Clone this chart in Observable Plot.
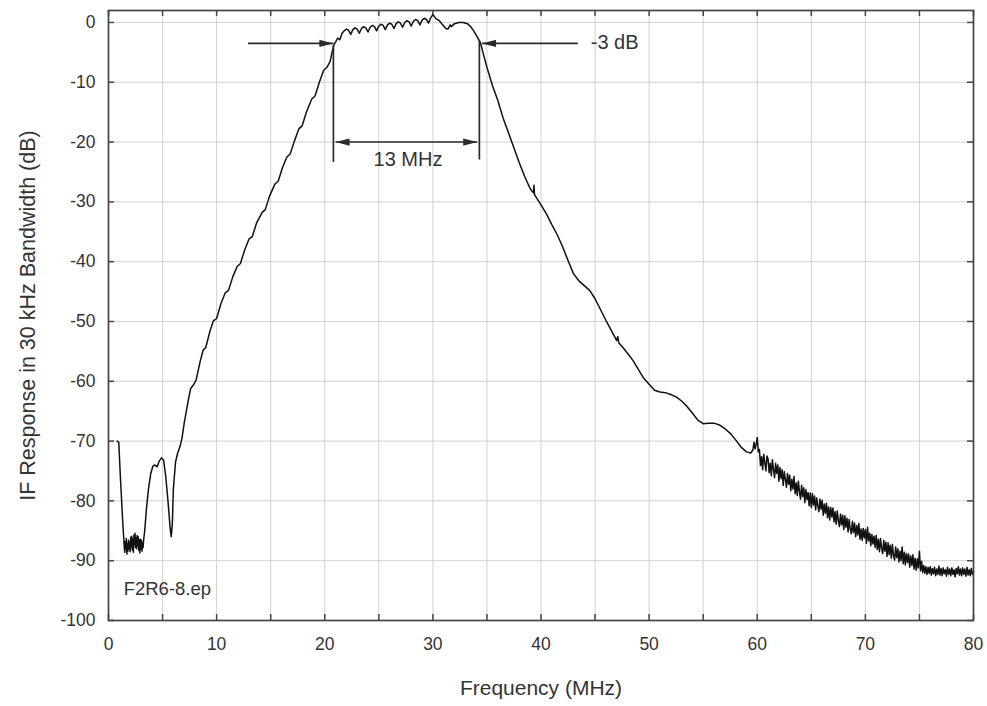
<!DOCTYPE html>
<html>
<head>
<meta charset="utf-8">
<script src="https://cdn.jsdelivr.net/npm/d3@7"></script>
<script src="https://cdn.jsdelivr.net/npm/@observablehq/plot@0.6"></script>
<style>
  html, body { margin: 0; padding: 0; background: #fff; }
  #chart svg { display: block; }
</style>
</head>
<body>
<div id="chart"></div>
<script>
// ---- Data: [frequency MHz, IF response dB] ----
const lowBand = [
  [0.8,-70.0],[0.95,-70.2],[1.1,-76.0],[1.3,-83.0],
  [1.45,-87.5],[1.5,-88.6],[1.55,-86.8],[1.6,-88.1],[1.65,-86.3],[1.7,-88.9],[1.75,-87.2],[1.8,-88.4],
  [1.85,-86.6],[1.9,-88.0],[1.95,-86.9],[2.0,-88.5],[2.05,-86.1],[2.1,-87.7],[2.15,-85.9],[2.2,-88.2],
  [2.25,-86.4],[2.3,-88.6],[2.35,-85.7],[2.4,-87.3],[2.45,-85.4],[2.5,-87.8],[2.55,-86.2],[2.6,-88.0],
  [2.65,-85.8],[2.7,-87.5],[2.75,-86.0],[2.8,-88.3],[2.85,-86.5],[2.9,-88.7],[2.95,-86.4],[3.0,-88.1],
  [3.05,-86.6],[3.1,-88.4],[3.15,-87.0],[3.2,-87.8],[3.25,-86.5],[3.35,-85.0],
  [3.5,-81.5],[3.7,-78.0],[3.9,-75.5],[4.1,-74.2],[4.3,-74.0],[4.5,-74.3],[4.7,-73.3],[4.9,-72.8],
  [5.1,-73.2],[5.3,-76.0],[5.5,-80.0],[5.7,-84.5],[5.8,-86.0],[5.9,-84.0],[6.0,-78.0],[6.2,-73.5],
  [6.4,-72.0],[6.6,-71.0],[6.8,-69.5],[7.0,-67.0],[7.2,-65.0]
];
const lowerSkirt = [
  [7.4,-63.0],[7.6,-61.2],[7.9,-60.5],[8.1,-59.8],[8.5,-56.5],[8.75,-54.8],[9.0,-54.3],[9.4,-51.5],
  [9.7,-49.9],[10.0,-49.5],[10.4,-47.0],[10.8,-45.2],[11.1,-44.8],[11.5,-42.5],[11.9,-40.8],[12.2,-40.3],
  [12.6,-38.0],[13.0,-36.2],[13.3,-35.8],[13.7,-33.5],[14.2,-31.8],[14.5,-31.3],[14.9,-29.0],[15.4,-27.0],
  [15.7,-26.5],[16.1,-24.2],[16.5,-22.5],[16.8,-22.0],[17.2,-19.8],[17.6,-17.8],[17.9,-17.3],[18.3,-15.0],
  [18.8,-12.8],[19.1,-12.3],[19.5,-10.0],[19.9,-8.0],[20.2,-7.5],[20.5,-6.5],[20.7,-4.8],[20.85,-3.7],
  [21.0,-3.3],[21.2,-2.6],[21.4,-2.9],[21.6,-1.8]
];
const passband = [
  [21.8,-1.4],[22.0,-1.1],[22.2,-1.3],[22.4,-2.0],[22.6,-1.2],[22.8,-0.9],[23.0,-1.1],[23.2,-1.8],
  [23.4,-1.0],[23.6,-0.7],[23.8,-0.9],[24.0,-1.6],[24.2,-0.8],[24.4,-0.5],[24.6,-0.7],[24.8,-1.4],
  [25.0,-0.6],[25.2,-0.3],[25.4,-0.5],[25.6,-1.2],[25.8,-0.4],[26.0,-0.1],[26.2,-0.3],[26.4,-1.0],
  [26.6,-0.2],[26.8,0.1],[27.0,-0.1],[27.2,-0.8],[27.4,0.0],[27.6,0.3],[27.8,0.1],[28.0,-0.6],
  [28.2,0.2],[28.4,0.5],[28.6,0.3],[28.8,-0.4],[29.0,0.4],[29.2,0.7],[29.4,0.5],[29.6,-0.1],
  [29.8,0.8],[30.0,1.3],[30.1,1.1],[30.3,0.6],[30.6,0.3],[30.9,-0.4],[31.2,-1.0],[31.4,-1.1],
  [31.6,-0.4],[31.7,-0.7],[32.0,-0.2],[32.4,0.0],[32.8,0.0],[33.2,-0.2],[33.5,-0.7],[33.8,-1.5],
  [34.1,-2.4],[34.4,-3.4]
];
const upperSkirt = [
  [34.7,-5.5],[35.0,-7.5],[35.5,-10.5],[36.0,-13.0],[36.5,-16.0],[37.0,-18.5],[37.5,-21.0],[38.0,-23.5],
  [38.5,-25.8],[39.0,-27.8],[39.3,-28.5],[39.35,-27.2],[39.4,-28.8],[40.0,-30.5],[40.5,-32.0],[41.0,-33.8],
  [41.5,-35.5],[42.0,-37.5],[42.5,-39.8],[43.0,-42.0],[43.5,-43.2],[44.0,-44.0],[44.5,-44.8],[45.0,-46.2],
  [45.5,-48.0],[46.0,-49.8],[46.5,-51.5],[47.0,-53.2],[47.1,-52.5],[47.2,-53.6],[47.5,-54.2],[48.0,-55.3],
  [48.5,-56.5],[49.0,-58.0],[49.5,-59.5],[50.0,-60.5],[50.5,-61.5],[51.0,-61.8],[51.5,-61.9],[52.0,-62.2],
  [52.5,-62.6],[53.0,-63.3],[53.5,-64.2],[54.0,-65.3],[54.5,-66.5],[55.0,-67.1],[55.5,-67.0],[56.0,-67.0],
  [56.5,-67.3],[57.0,-67.9],[57.5,-68.7],[58.0,-69.8],[58.5,-71.0],[59.0,-71.8],[59.4,-72.0],[59.6,-71.5],
  [59.7,-70.2],[59.8,-71.3],[59.9,-70.5],[60.0,-69.4],[60.1,-71.8]
];
const noiseTail = [
  [60.2,-71.4],[60.3,-74.1],[60.4,-72.6],[60.5,-74.8],[60.6,-72.2],[60.7,-73.6],[60.8,-75.0],[60.9,-72.5],
  [61.0,-73.0],[61.1,-75.3],[61.2,-73.7],[61.3,-75.8],[61.4,-73.1],[61.5,-74.8],[61.6,-76.1],[61.7,-73.7],[61.8,-75.4],[61.9,-74.0],
  [62.0,-76.7],[62.1,-74.4],[62.2,-76.3],[62.3,-74.8],[62.4,-77.4],[62.5,-75.1],[62.6,-76.4],[62.7,-77.7],[62.8,-75.4],[62.9,-77.2],
  [63.0,-75.7],[63.1,-78.3],[63.2,-76.4],[63.3,-78.0],[63.4,-75.9],[63.5,-78.8],[63.6,-77.0],[63.7,-79.1],[63.8,-76.7],[63.9,-78.4],
  [64.0,-79.7],[64.1,-77.4],[64.2,-79.3],[64.3,-77.8],[64.4,-80.3],[64.5,-78.1],[64.6,-79.8],[64.7,-78.6],[64.8,-80.8],[64.9,-78.7],
  [65.0,-81.1],[65.1,-78.8],[65.2,-80.7],[65.3,-79.2],[65.4,-81.5],[65.5,-79.5],[65.6,-80.8],[65.7,-81.8],[65.8,-79.7],[65.9,-81.4],
  [66.0,-79.9],[66.1,-82.4],[66.2,-80.5],[66.3,-82.1],[66.4,-80.4],[66.5,-82.8],[66.6,-81.0],[66.7,-83.2],[66.8,-81.1],[66.9,-82.7],
  [67.0,-81.2],[67.1,-83.5],[67.2,-81.8],[67.3,-83.9],[67.4,-81.7],[67.5,-83.3],[67.6,-84.3],[67.7,-82.2],[67.8,-84.0],[67.9,-82.4],
  [68.0,-84.8],[68.1,-82.5],[68.2,-84.4],[68.3,-82.9],[68.4,-85.2],[68.5,-83.1],[68.6,-84.7],[68.7,-85.5],[68.8,-83.4],[68.9,-85.3],
  [69.0,-83.7],[69.1,-86.0],[69.2,-84.1],[69.3,-85.7],[69.4,-83.8],[69.5,-86.4],[69.6,-84.7],[69.7,-86.6],[69.8,-84.6],[69.9,-86.2],
  [70.0,-84.8],[70.1,-87.1],[70.2,-84.4],[70.3,-86.7],[70.4,-85.4],[70.5,-87.5],[70.6,-85.6],[70.7,-87.2],[70.8,-85.9],[70.9,-87.8],
  [71.0,-85.8],[71.1,-88.1],[71.2,-86.4],[71.3,-88.5],[71.4,-86.3],[71.5,-87.9],[71.6,-88.8],[71.7,-86.6],[71.8,-88.4],[71.9,-86.9],
  [72.0,-89.3],[72.1,-87.0],[72.2,-89.0],[72.3,-87.4],[72.4,-89.6],[72.5,-87.3],[72.6,-89.1],[72.7,-89.9],[72.8,-87.7],[72.9,-89.5],
  [73.0,-88.0],[73.1,-90.2],[73.2,-88.4],[73.3,-90.0],[73.4,-87.7],[73.5,-90.5],[73.6,-88.6],[73.7,-90.7],[73.8,-88.8],[73.9,-90.3],
  [74.0,-88.9],[74.1,-91.1],[74.2,-89.2],[74.3,-90.8],[74.4,-89.0],[74.5,-91.4],[74.6,-89.6],[74.7,-91.6],[74.8,-89.7],[74.9,-91.2],
  [75.0,-88.4],[75.1,-91.7],[75.2,-90.1],[75.3,-92.0],[75.4,-90.8],[75.5,-92.1],[75.6,-91.0],[75.7,-92.3],[75.8,-91.1],[75.9,-92.1],
  [76.0,-91.0],[76.1,-92.4],[76.2,-91.3],[76.3,-92.2],[76.4,-91.1],[76.5,-92.5],[76.6,-91.4],[76.7,-92.3],[76.8,-90.9],[76.9,-92.4],
  [77.0,-91.3],[77.1,-92.5],[77.2,-91.2],[77.3,-92.2],[77.4,-91.5],[77.5,-92.6],[77.6,-91.1],[77.7,-92.3],[77.8,-91.4],[77.9,-92.5],
  [78.0,-91.2],[78.1,-92.3],[78.2,-91.5],[78.3,-92.7],[78.4,-91.3],[78.5,-92.2],[78.6,-91.0],[78.7,-92.4],[78.8,-91.4],[78.9,-92.5],
  [79.0,-91.2],[79.1,-92.3],[79.2,-91.4],[79.3,-92.6],[79.4,-91.1],[79.5,-92.4],[79.6,-91.5],[79.7,-92.5],[79.8,-91.3],[79.9,-92.3],
  [80.0,-91.8]
];

// Axes / grid values
const xTickLabels = [0, 10, 20, 30, 40, 50, 60, 70, 80];
const xGridLines = [0, 5, 10, 15, 20, 25, 30, 35, 40, 45, 50, 55, 60, 65, 70, 75, 80];
const yTickLabels = [0, -10, -20, -30, -40, -50, -60, -70, -80, -90, -100];

// -3 dB bandwidth annotation values
const edgeFreqs = [20.8, 34.3];
const edgeTopsDb = [-3.8, -3.0];
const edgeBottomsDb = [-23.4, -23.0];
const levelArrows = [
  {from: 12.9, to: 20.8, db: -3.5, dir: "right"},
  {from: 43.4, to: 34.55, db: -3.5, dir: "left"}
];
const spanArrow = {from: 21.0, to: 34.1, db: -20.0};
const centeredNotes = [{text: "13 MHz", f: 27.7, db: -23.0}];
const leftNotes = [{text: "-3 dB", f: 44.6, db: -3.4}];
const fileNotes = [{text: "F2R6-8.ep", f: 1.4, db: -94.7}];
const xAxisTitle = ["Frequency (MHz)"];
const yAxisTitle = ["IF Response in 30 kHz Bandwidth (dB)"];

// ---- Build ----
const curve = [...lowBand, ...lowerSkirt, ...passband, ...upperSkirt, ...noiseTail]
  .map(([f, db]) => ({f, db}));

const edges = edgeFreqs.map((f, i) => ({f, top: edgeTopsDb[i], bottom: edgeBottomsDb[i]}));

const headRight = {draw(ctx) { ctx.moveTo(0, 0); ctx.lineTo(-14, -3.6); ctx.lineTo(-14, 3.6); ctx.closePath(); }};
const headLeft  = {draw(ctx) { ctx.moveTo(0, 0); ctx.lineTo(14, -3.6); ctx.lineTo(14, 3.6); ctx.closePath(); }};

const rightTips = [
  ...levelArrows.filter(a => a.dir === "right").map(a => ({f: a.to, db: a.db})),
  {f: spanArrow.to, db: spanArrow.db}
];
const leftTips = [
  ...levelArrows.filter(a => a.dir === "left").map(a => ({f: a.to, db: a.db})),
  {f: spanArrow.from, db: spanArrow.db}
];
const arrowLines = [
  ...levelArrows.map(a => ({x1: a.from, x2: a.to, y: a.db})),
  {x1: spanArrow.from, x2: spanArrow.to, y: spanArrow.db}
];

const ink = "#2a2a2a";
const tickDb = 1.0;   // inward tick length in dB (~6px)
const tickMHz = 0.55; // inward tick length in MHz (~6px)

const chart = Plot.plot({
  width: 987,
  height: 706,
  marginLeft: 108,
  marginRight: 14,
  marginTop: 10,
  marginBottom: 86,
  style: {fontFamily: "'Liberation Sans', Arial, Helvetica, sans-serif", background: "#fff", color: "#333"},
  x: {domain: [0, 80]},
  y: {domain: [-100, 2]},
  marks: [
    Plot.ruleX(xGridLines, {stroke: "#d2d2d2", strokeWidth: 1}),
    Plot.ruleY(yTickLabels, {stroke: "#d2d2d2", strokeWidth: 1}),
    Plot.ruleX(xGridLines, {x: d => d, y1: -100, y2: -100 + tickDb, stroke: "#444", strokeWidth: 1.5}),
    Plot.ruleX(xGridLines, {x: d => d, y1: 2, y2: 2 - tickDb, stroke: "#444", strokeWidth: 1.5}),
    Plot.ruleY(yTickLabels, {y: d => d, x1: 0, x2: tickMHz, stroke: "#444", strokeWidth: 1.5}),
    Plot.ruleY(yTickLabels, {y: d => d, x1: 80, x2: 80 - tickMHz, stroke: "#444", strokeWidth: 1.5}),
    Plot.axisX({ticks: xTickLabels, tickSize: 0, tickPadding: 17, fontSize: 17.5, tickFormat: d => String(d), label: null}),
    Plot.axisY({ticks: yTickLabels, tickSize: 0, tickPadding: 13, fontSize: 17.5, tickFormat: d => String(d), label: null}),
    Plot.line(curve, {x: "f", y: "db", stroke: "#111", strokeWidth: 1.5, strokeLinejoin: "round"}),
    Plot.ruleX(edges, {x: "f", y1: "top", y2: "bottom", stroke: ink, strokeWidth: 1.7}),
    Plot.link(arrowLines, {x1: "x1", x2: "x2", y1: "y", y2: "y", stroke: ink, strokeWidth: 1.6}),
    Plot.dot(rightTips, {x: "f", y: "db", symbol: headRight, fill: ink, stroke: "none"}),
    Plot.dot(leftTips, {x: "f", y: "db", symbol: headLeft, fill: ink, stroke: "none"}),
    Plot.text(centeredNotes, {x: "f", y: "db", text: "text", textAnchor: "middle", fontSize: 20, fill: "#333", lineAnchor: "middle"}),
    Plot.text(leftNotes, {x: "f", y: "db", text: "text", textAnchor: "start", fontSize: 20, fill: "#333", lineAnchor: "middle"}),
    Plot.text(fileNotes, {x: "f", y: "db", text: "text", textAnchor: "start", fontSize: 18.5, fill: "#333", lineAnchor: "middle"}),
    Plot.frame({stroke: "#444", strokeWidth: 1.7}),
    Plot.text(xAxisTitle, {frameAnchor: "bottom", text: d => d, textAnchor: "middle", dy: 68, fontSize: 21, fill: "#333", lineAnchor: "middle"}),
    Plot.text(yAxisTitle, {frameAnchor: "left", text: d => d, textAnchor: "middle", dx: -80, rotate: -90, fontSize: 21.5, fill: "#333", lineAnchor: "middle"})
  ]
});

document.getElementById("chart").appendChild(chart);
</script>
</body>
</html>
